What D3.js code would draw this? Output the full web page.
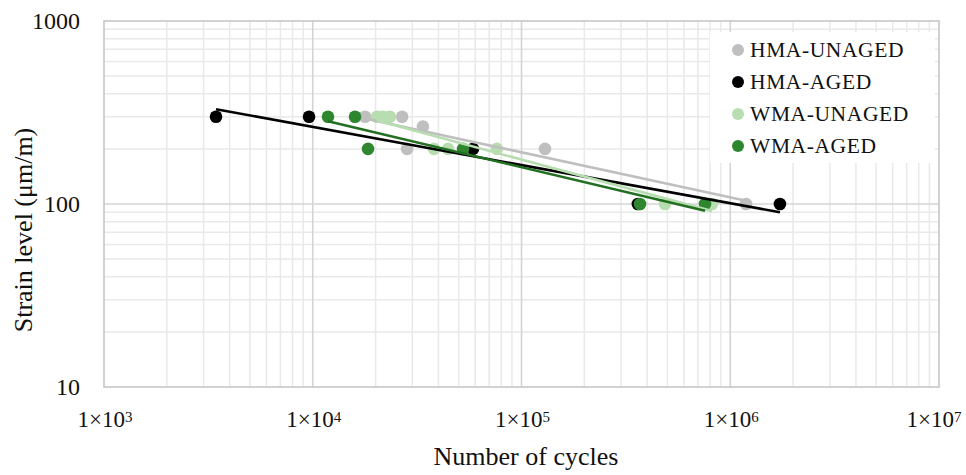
<!DOCTYPE html>
<html>
<head>
<meta charset="utf-8">
<script src="https://cdn.jsdelivr.net/npm/d3@7"></script>
<style>
  html, body { margin: 0; padding: 0; background: #ffffff; }
  svg { display: block; font-family: "Liberation Serif", "Times New Roman", serif; }
</style>
</head>
<body>
<svg id="chart" width="966" height="475"></svg>
<script>
// ---- data ----
const seriesNames = ["HMA-UNAGED", "HMA-AGED", "WMA-UNAGED", "WMA-AGED"];
const seriesColors = ["#bfbfbf", "#000000", "#b7ddb0", "#2e862e"];
const trendColors = ["#bfbfbf", "#000000", "#b7ddb0", "#226f22"];

const hmaUnagedCycles = [17800, 26800, 33700, 28300, 129600, 1190000];
const hmaUnagedStrain = [300, 300, 265, 200, 200, 100];

const hmaAgedCycles = [3440, 9600, 58600, 361000, 1730000];
const hmaAgedStrain = [300, 300, 200, 100, 100];

const wmaUnagedCycles = [20300, 21700, 23400, 38100, 44500, 76300, 487000, 818000];
const wmaUnagedStrain = [300, 300, 300, 200, 200, 200, 100, 100];

const wmaAgedCycles = [11830, 15940, 18400, 52500, 369600, 757000];
const wmaAgedStrain = [300, 300, 200, 200, 100, 100];

const xTickValues = [1e3, 1e4, 1e5, 1e6, 1e7];
const xTickExponents = ["3", "4", "5", "6", "7"];
const yTickValues = [10, 100, 1000];
const yTickLabels = ["10", "100", "1000"];

const xTitle = "Number of cycles";
const yTitle = "Strain level (μm/m)";

// ---- build ----
const cyclesList = [hmaUnagedCycles, hmaAgedCycles, wmaUnagedCycles, wmaAgedCycles];
const strainList = [hmaUnagedStrain, hmaAgedStrain, wmaUnagedStrain, wmaAgedStrain];
const series = seriesNames.map((name, i) => ({
  name, color: seriesColors[i], trend: trendColors[i],
  points: cyclesList[i].map((c, j) => ({ n: c, s: strainList[i][j] }))
}));

const W = 966;
const svg = d3.select("#chart");
const L = 104, R = 939, T = 21, B = 387;
const x = d3.scaleLog().domain([1e3, 1e7]).range([L, R]);
const y = d3.scaleLog().domain([10, 1000]).range([B, T]);

const isMajor = v => Math.abs(Math.log10(v) - Math.round(Math.log10(v))) < 1e-9;

// gridlines
const grid = svg.append("g");
const xGrid = x.ticks();
const yGrid = y.ticks();
grid.selectAll("line.xminor").data(xGrid.filter(v => !isMajor(v))).join("line")
  .attr("x1", d => x(d)).attr("x2", d => x(d)).attr("y1", T).attr("y2", B)
  .attr("stroke", "#e9e9e9").attr("stroke-width", 1.5);
grid.selectAll("line.yminor").data(yGrid.filter(v => !isMajor(v))).join("line")
  .attr("y1", d => y(d)).attr("y2", d => y(d)).attr("x1", L).attr("x2", R)
  .attr("stroke", "#e9e9e9").attr("stroke-width", 1.5);
grid.selectAll("line.xmajor").data(xGrid.filter(v => isMajor(v) && v > 1e3 && v < 1e7)).join("line")
  .attr("x1", d => x(d)).attr("x2", d => x(d)).attr("y1", T).attr("y2", B)
  .attr("stroke", "#d4d4d4").attr("stroke-width", 1.6);
grid.selectAll("line.ymajor").data(yGrid.filter(v => isMajor(v) && v > 10 && v < 1000)).join("line")
  .attr("y1", d => y(d)).attr("y2", d => y(d)).attr("x1", L).attr("x2", R)
  .attr("stroke", "#d4d4d4").attr("stroke-width", 1.6);
svg.append("rect").attr("x", L).attr("y", T).attr("width", R - L).attr("height", B - T)
  .attr("fill", "none").attr("stroke", "#c6c6c6").attr("stroke-width", 1.6);

// points
const pts = svg.append("g");
series.forEach(s => {
  pts.append("g").selectAll("circle").data(s.points).join("circle")
    .attr("cx", d => x(d.n)).attr("cy", d => y(d.s)).attr("r", 6.3)
    .attr("fill", s.color);
});

// power trendlines (least squares in log-log space)
function powerFit(points) {
  const X = points.map(p => Math.log10(p.n)), Y = points.map(p => Math.log10(p.s));
  const mx = d3.mean(X), my = d3.mean(Y);
  const b = d3.sum(X, (v, i) => (v - mx) * (Y[i] - my)) / d3.sum(X, v => (v - mx) ** 2);
  const a = my - b * mx;
  return v => Math.pow(10, a + b * Math.log10(v));
}
const lines = svg.append("g");
series.forEach(s => {
  const f = powerFit(s.points);
  const [n0, n1] = d3.extent(s.points, p => p.n);
  lines.append("line")
    .attr("x1", x(n0)).attr("y1", y(f(n0)))
    .attr("x2", x(n1)).attr("y2", y(f(n1)))
    .attr("stroke", s.trend).attr("stroke-width", 2.6);
});

// y tick labels
svg.append("g").selectAll("text").data(yTickValues).join("text")
  .attr("x", 80).attr("y", d => y(d) + 8)
  .attr("text-anchor", "end").attr("font-size", 24).attr("fill", "#111")
  .text((d, i) => yTickLabels[i]);

// x tick labels
const xt = svg.append("g").selectAll("text").data(xTickValues).join("text")
  .attr("x", d => x(d) + 1).attr("y", 427)
  .attr("text-anchor", "middle").attr("font-size", 23).attr("fill", "#111");
xt.append("tspan").text("1×10");
xt.append("tspan").attr("dy", -5).attr("font-size", 15).text((d, i) => xTickExponents[i]);
// keep labels inside the canvas
xt.each(function () {
  const bb = this.getBBox();
  const over = bb.x + bb.width - (W - 4);
  if (over > 0) d3.select(this).attr("x", +d3.select(this).attr("x") - over);
});

// axis titles
svg.append("text").attr("x", 526).attr("y", 465).attr("text-anchor", "middle")
  .attr("font-size", 26).attr("fill", "#111").text(xTitle);
svg.append("text").attr("transform", "translate(32,230) rotate(-90)")
  .attr("text-anchor", "middle").attr("font-size", 26).attr("fill", "#111").text(yTitle);

// legend
const lg = svg.append("g");
lg.append("rect").attr("x", 710).attr("y", 32).attr("width", 225).attr("height", 131).attr("fill", "#ffffff");
const items = lg.selectAll("g.item").data(series).join("g")
  .attr("transform", (d, i) => `translate(738, ${50 + i * 32})`);
items.append("circle").attr("r", 6).attr("fill", d => d.color);
items.append("text").attr("x", 12).attr("y", 7).attr("font-size", 21.5)
  .attr("letter-spacing", 0.6).attr("fill", "#111").text(d => d.name);
</script>
</body>
</html>
